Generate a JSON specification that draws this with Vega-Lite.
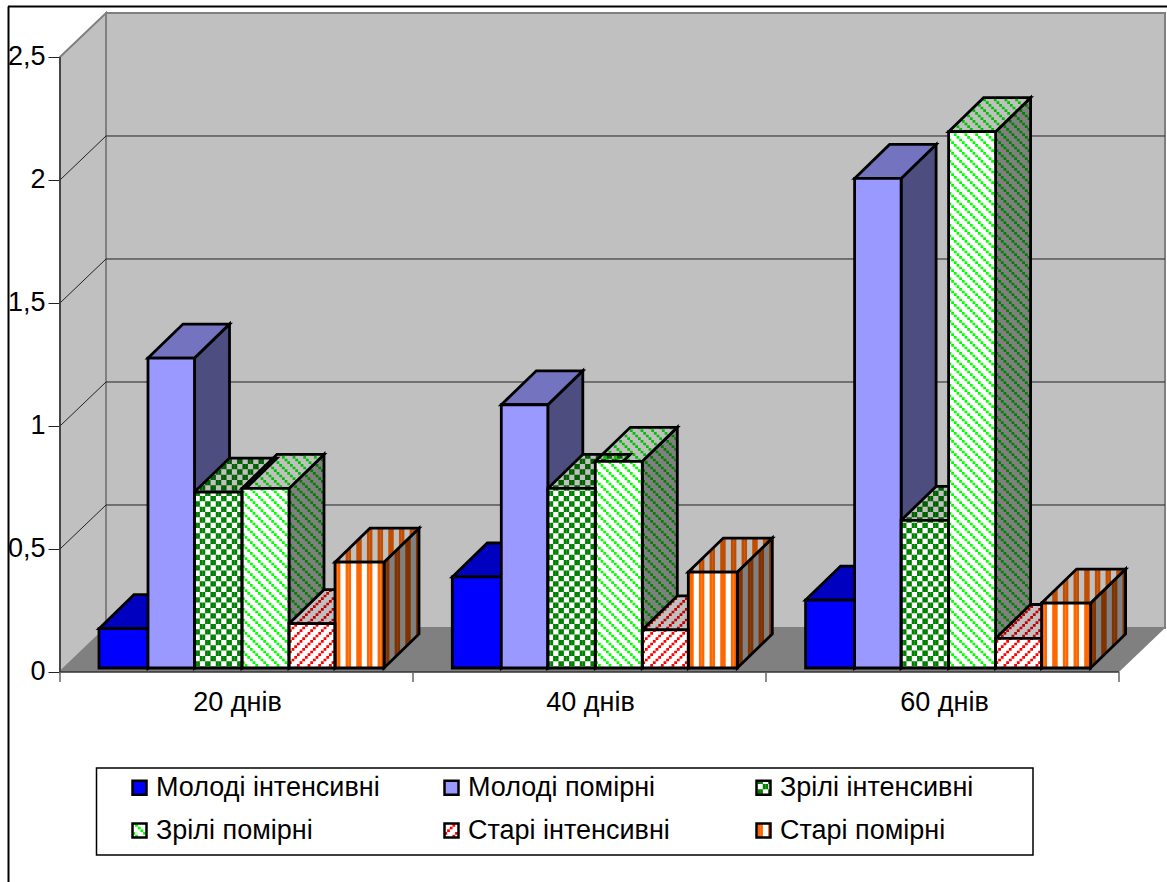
{
"$schema":"https://vega.github.io/schema/vega-lite/v6.json",
"width":1167,"height":882,"autosize":{"type":"none"},"padding":0,"background":"white",
"config":{"view":{"stroke":null},"font":"Liberation Sans"},
"data":{"values":[
{"period":"20 днів","series":"Молоді інтенсивні","value":0.16},
{"period":"20 днів","series":"Молоді помірні","value":1.26},
{"period":"20 днів","series":"Зрілі інтенсивні","value":0.715},
{"period":"20 днів","series":"Зрілі помірні","value":0.73},
{"period":"20 днів","series":"Старі інтенсивні","value":0.18},
{"period":"20 днів","series":"Старі помірні","value":0.43},
{"period":"40 днів","series":"Молоді інтенсивні","value":0.37},
{"period":"40 днів","series":"Молоді помірні","value":1.07},
{"period":"40 днів","series":"Зрілі інтенсивні","value":0.73},
{"period":"40 днів","series":"Зрілі помірні","value":0.84},
{"period":"40 днів","series":"Старі інтенсивні","value":0.155},
{"period":"40 днів","series":"Старі помірні","value":0.39},
{"period":"60 днів","series":"Молоді інтенсивні","value":0.276},
{"period":"60 днів","series":"Молоді помірні","value":1.99},
{"period":"60 днів","series":"Зрілі інтенсивні","value":0.6},
{"period":"60 днів","series":"Зрілі помірні","value":2.18},
{"period":"60 днів","series":"Старі інтенсивні","value":0.12},
{"period":"60 днів","series":"Старі помірні","value":0.264}
]},
"transform":[
{"calculate":"indexof(['20 днів','40 днів','60 днів'],datum.period)","as":"g"},
{"calculate":"indexof(['Молоді інтенсивні','Молоді помірні','Зрілі інтенсивні','Зрілі помірні','Старі інтенсивні','Старі помірні'],datum.series)","as":"s"},
{"calculate":"99+353.3*datum.g+[0,49,95.5,143,190,236][datum.s]","as":"x0"},
{"calculate":"99+353.3*datum.g+[49,95.5,143,190,236,285][datum.s]","as":"x1"},
{"calculate":"datum.value+0.01626","as":"vt"},
{"calculate":"datum.g+'-'+datum.s","as":"key"},
{"calculate":"datum.s==2?[5.333,5.333]:datum.s==5?[1000,0]:[2.667,8]","as":"dash"}
],
"encoding":{
"x":{"field":"px","type":"quantitative","scale":{"domain":[0,1167],"nice":false,"zero":false},
"axis":{"title":null,"orient":"bottom","offset":-210,"values":[237,590,944],"ticks":false,"domain":false,"grid":false,"labelFont":"Liberation Sans","labelFontSize":27,"labelColor":"black","labelPadding":17,"labelExpr":"datum.value==237?'20 днів':datum.value==590?'40 днів':'60 днів'"}},
"y":{"field":"v","type":"quantitative","stack":null,"scale":{"domain":[-0.8537,2.7317],"nice":false,"zero":false},
"axis":{"title":null,"orient":"left","offset":-60,"values":[0,0.5,1,1.5,2,2.5],"domain":false,"grid":false,"tickSize":12,"tickColor":"#222222","tickWidth":1,"labelFont":"Liberation Sans","labelFontSize":27,"labelColor":"black","labelPadding":3,"labelExpr":"replace(format(datum.value,'~g'),'.',',')"}}
},
"layer":[
{"data":{"values":[{"edge":"top"},{"edge":"left"}]},
"transform":[
{"calculate":"datum.edge=='top'?8:8.5","as":"px"},
{"calculate":"datum.edge=='top'?1167:8.5","as":"px2"},
{"calculate":"2.705","as":"v"},
{"calculate":"datum.edge=='top'?2.705:-0.8537","as":"v2"}],
"mark":{"type":"rule","stroke":"black","strokeWidth":2},
"encoding":{"x2":{"field":"px2"},"y2":{"field":"v2"}}},

{"data":{"values":[{"lo":0,"hi":2.5}]},
"transform":[
{"calculate":"106","as":"px"},{"calculate":"1165","as":"px2"},
{"calculate":"datum.hi+0.17886","as":"v"},{"calculate":"datum.lo+0.17886","as":"v2"}],
"mark":{"type":"rect","fill":"#c0c0c0","stroke":"#808080","strokeWidth":2},
"encoding":{"x2":{"field":"px2"},"y2":{"field":"v2"}}},

{"data":{"values":[{"lo":0,"hi":2.5}]},
"transform":[
{"calculate":"[60,106]","as":"px"},
{"calculate":"[datum.hi,datum.hi+0.17886]","as":"v"},
{"calculate":"[datum.lo,datum.lo+0.17886]","as":"v2"},
{"flatten":["px","v","v2"]}],
"mark":{"type":"area","orient":"vertical","fill":"#c0c0c0","stroke":"#808080","strokeWidth":2},
"encoding":{"y2":{"field":"v2"}}},

{"data":{"values":[{"lo":0,"hi":2.5}]},
"transform":[
{"calculate":"[60,106,1119,1165]","as":"px"},
{"calculate":"[datum.lo,datum.lo+0.17886,datum.lo+0.17886,datum.lo+0.17886]","as":"v"},
{"calculate":"[datum.lo,datum.lo,datum.lo,datum.lo+0.17886]","as":"v2"},
{"flatten":["px","v","v2"]}],
"mark":{"type":"area","orient":"vertical","fill":"#808080"},
"encoding":{"y2":{"field":"v2"}}},

{"data":{"values":[{"tick":0.5},{"tick":1},{"tick":1.5},{"tick":2}]},
"transform":[
{"calculate":"[106,60]","as":"px"},
{"calculate":"[1165,106]","as":"px2"},
{"calculate":"[datum.tick+0.17886,datum.tick]","as":"v"},
{"calculate":"[datum.tick+0.17886,datum.tick+0.17886]","as":"v2"},
{"flatten":["px","px2","v","v2"]}],
"mark":{"type":"rule","stroke":"#222222","strokeWidth":1},
"encoding":{"x2":{"field":"px2"},"y2":{"field":"v2"}}},

{"data":{"values":[{"line":"value"},{"line":"category"}]},
"transform":[
{"calculate":"60","as":"px"},
{"calculate":"datum.line=='value'?60:1119","as":"px2"},
{"calculate":"datum.line=='value'?2.5:0","as":"v"},
{"calculate":"0","as":"v2"}],
"mark":{"type":"rule","stroke":"#333333","strokeWidth":1.5},
"encoding":{"x2":{"field":"px2"},"y2":{"field":"v2"}}},

{"data":{"values":[{"slot":0},{"slot":1},{"slot":2},{"slot":3}]},
"transform":[
{"calculate":"60+353*datum.slot","as":"px"},
{"calculate":"0","as":"v"},
{"calculate":"-0.0407","as":"v2"}],
"mark":{"type":"rule","stroke":"#666666","strokeWidth":1.5},
"encoding":{"y2":{"field":"v2"}}},

{"transform":[
{"calculate":"[datum.x1,datum.x1+35]","as":"px"},
{"calculate":"[datum.vt,datum.vt+0.1382]","as":"v"},
{"calculate":"[0.01626,0.15446]","as":"v2"},
{"flatten":["px","v","v2"]}],
"mark":{"type":"area","orient":"vertical","fill":{"expr":"['#000080','#4d4d80','#808080','#808080','#808080','#808080'][datum.s]"}},
"encoding":{"y2":{"field":"v2"},"detail":{"field":"key"}}},

{"transform":[
{"filter":"datum.s>=2"},
{"calculate":"sequence(0,13)","as":"c"},{"flatten":["c"]},
{"filter":"datum.s!=5||floor(datum.c/2)%2==0"},
{"calculate":"datum.x1+(datum.c+0.5)*2.667","as":"px"},
{"calculate":"datum.vt+(datum.c+0.5)*2.667/35*0.1382","as":"v"},
{"calculate":"0.01626+(datum.c+0.5)*2.667/35*0.1382","as":"v2"},
{"calculate":"672-246*datum.v+[0,0,floor(datum.c/2)*5.333,-datum.c*2.667,datum.c*2.667,0][datum.s]","as":"off"}],
"mark":{"type":"rule","strokeWidth":2.8,"stroke":{"expr":"['','','#004000','#008000','#800000','#803300'][datum.s]"},"strokeDash":{"expr":"datum.dash"},"strokeDashOffset":{"expr":"datum.off"}},
"encoding":{"y2":{"field":"v2"}}},

{"transform":[
{"calculate":"[datum.x1,datum.x1+35]","as":"px"},
{"calculate":"[datum.vt,datum.vt+0.1382]","as":"v"},
{"calculate":"[0.01626,0.15446]","as":"v2"},
{"flatten":["px","v","v2"]}],
"mark":{"type":"area","orient":"vertical","fill":"transparent","stroke":"black","strokeWidth":2.8},
"encoding":{"y2":{"field":"v2"},"detail":{"field":"key"}}},

{"transform":[
{"calculate":"[datum.x0,datum.x0+35,datum.x1,datum.x1+35]","as":"px"},
{"calculate":"[datum.vt,datum.vt+0.1382,datum.vt+0.1382,datum.vt+0.1382]","as":"v"},
{"calculate":"[datum.vt,datum.vt,datum.vt,datum.vt+0.1382]","as":"v2"},
{"flatten":["px","v","v2"]}],
"mark":{"type":"area","orient":"vertical","fill":{"expr":"['#0000c0','#7373c0','#c0c0c0','#c0c0c0','#c0c0c0','#c0c0c0'][datum.s]"}},
"encoding":{"y2":{"field":"v2"},"detail":{"field":"key"}}},

{"transform":[
{"filter":"datum.s>=2"},
{"calculate":"sequence(0,32)","as":"c"},{"flatten":["c"]},
{"calculate":"(datum.c+0.5)*2.667","as":"m"},
{"filter":"datum.m<datum.x1-datum.x0+35"},
{"filter":"datum.s!=5||floor(datum.c/2)%2==0"},
{"calculate":"datum.x0+datum.m","as":"px"},
{"calculate":"datum.vt+min(datum.m,35)/35*0.1382","as":"v"},
{"calculate":"datum.vt+max(datum.m-datum.x1+datum.x0,0)/35*0.1382","as":"v2"},
{"calculate":"672-246*datum.v+[0,0,floor(datum.c/2)*5.333,-datum.c*2.667,datum.c*2.667,0][datum.s]","as":"off"}],
"mark":{"type":"rule","strokeWidth":2.8,"stroke":{"expr":"['','','#006000','#00c000','#c00000','#c04d00'][datum.s]"},"strokeDash":{"expr":"datum.dash"},"strokeDashOffset":{"expr":"datum.off"}},
"encoding":{"y2":{"field":"v2"}}},

{"transform":[
{"calculate":"[datum.x0,datum.x0+35,datum.x1,datum.x1+35]","as":"px"},
{"calculate":"[datum.vt,datum.vt+0.1382,datum.vt+0.1382,datum.vt+0.1382]","as":"v"},
{"calculate":"[datum.vt,datum.vt,datum.vt,datum.vt+0.1382]","as":"v2"},
{"flatten":["px","v","v2"]}],
"mark":{"type":"area","orient":"vertical","fill":"transparent","stroke":"black","strokeWidth":2.8},
"encoding":{"y2":{"field":"v2"},"detail":{"field":"key"}}},

{"transform":[
{"calculate":"datum.x0","as":"px"},{"calculate":"datum.x1","as":"px2"},
{"calculate":"datum.vt","as":"v"},{"calculate":"0.01626","as":"v2"}],
"mark":{"type":"rect","fill":"white"},
"encoding":{"x2":{"field":"px2"},"y2":{"field":"v2"}}},

{"transform":[
{"filter":"datum.s>=2"},
{"calculate":"sequence(0,18)","as":"c"},{"flatten":["c"]},
{"calculate":"(datum.c+0.5)*2.667","as":"m"},
{"filter":"datum.m<datum.x1-datum.x0"},
{"filter":"datum.s!=5||floor(datum.c/2)%2==0"},
{"calculate":"datum.x0+datum.m","as":"px"},
{"calculate":"datum.vt","as":"v"},
{"calculate":"0.01626","as":"v2"},
{"calculate":"672-246*datum.v+[0,0,floor(datum.c/2)*5.333,-datum.c*2.667,datum.c*2.667,0][datum.s]","as":"off"}],
"mark":{"type":"rule","strokeWidth":2.8,"stroke":{"expr":"['','','#008000','#00ff00','#ff0000','#ff6600'][datum.s]"},"strokeDash":{"expr":"datum.dash"},"strokeDashOffset":{"expr":"datum.off"}},
"encoding":{"y2":{"field":"v2"}}},

{"transform":[
{"filter":"datum.period=='20 днів'&&datum.s>=2"},
{"calculate":"sequence(0,5)","as":"c"},{"flatten":["c"]},
{"filter":"datum.s!=5||floor(datum.c/2)%2==0"},
{"calculate":"[0,0,756,131,443,756][datum.s]+1.5+(datum.c+0.5)*2.667","as":"px"},
{"calculate":"(672-([0,0,780,823,823,823][datum.s]))/246","as":"v"},
{"calculate":"(672-([0,0,794,837,837,837][datum.s]))/246","as":"v2"},
{"calculate":"672-246*datum.v+[0,0,floor(datum.c/2)*5.333,-datum.c*2.667,datum.c*2.667,0][datum.s]","as":"off"}],
"mark":{"type":"rule","strokeWidth":2.8,"stroke":{"expr":"['','','#008000','#00ff00','#ff0000','#ff6600'][datum.s]"},"strokeDash":{"expr":"datum.dash"},"strokeDashOffset":{"expr":"datum.off"}},
"encoding":{"y2":{"field":"v2"}}},

{"data":{"values":[{"box":"legend"}]},
"transform":[
{"calculate":"96.5","as":"px"},{"calculate":"1033","as":"px2"},
{"calculate":"(672-768)/246","as":"v"},{"calculate":"(672-855)/246","as":"v2"}],
"mark":{"type":"rect","fill":"transparent","stroke":"black","strokeWidth":1.5},
"encoding":{"x2":{"field":"px2"},"y2":{"field":"v2"}}},

{"transform":[
{"calculate":"datum.x0","as":"px"},{"calculate":"datum.x1","as":"px2"},
{"calculate":"datum.vt","as":"v"},{"calculate":"0.01626","as":"v2"}],
"mark":{"type":"rect","stroke":"black","strokeWidth":2.8},
"encoding":{"x2":{"field":"px2"},"y2":{"field":"v2"},
"fill":{"field":"series","type":"nominal",
"scale":{"domain":["Молоді інтенсивні","Молоді помірні","Зрілі інтенсивні","Зрілі помірні","Старі інтенсивні","Старі помірні"],"range":["#0000ff","#9999ff","transparent","transparent","transparent","transparent"]},
"legend":{"orient":"none","legendX":126,"legendY":774,"direction":"horizontal","columns":3,"title":null,"symbolType":"square","symbolSize":196,"symbolStrokeColor":"black","symbolStrokeWidth":2.5,"symbolOpacity":1,"labelFont":"Liberation Sans","labelFontSize":27,"labelColor":"black","labelOffset":3,"columnPadding":58,"rowPadding":15,"gridAlign":"all","labelLimit":400,"padding":0}}}}
]
}
